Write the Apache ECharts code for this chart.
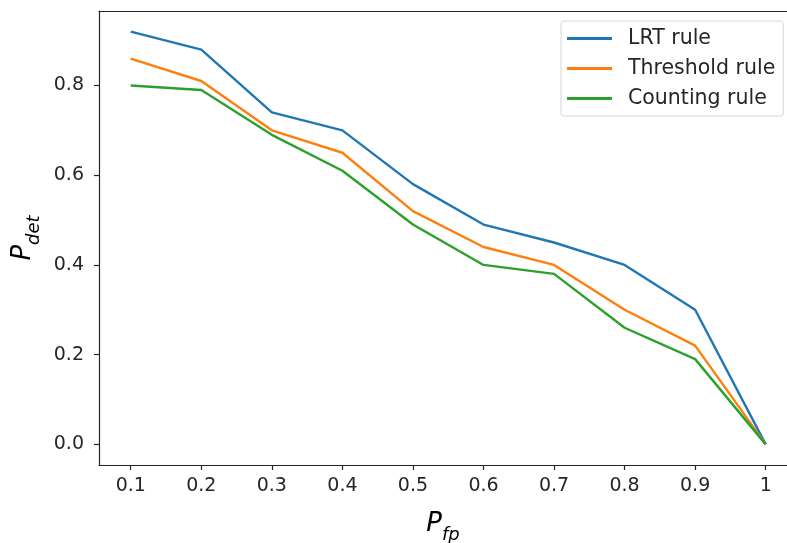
<!DOCTYPE html>
<html>
<head>
<meta charset="utf-8">
<script src="https://cdn.jsdelivr.net/npm/echarts@6/dist/echarts.min.js"></script>
<style>
  html, body { margin: 0; padding: 0; background: #fff; }
  #chart { width: 787px; height: 543px; }
</style>
</head>
<body>
<div id="chart"></div>
<script>
  // x categories (P_fp) and detection probabilities
  const pfpLabels = ['0.1', '0.2', '0.3', '0.4', '0.5', '0.6', '0.7', '0.8', '0.9', '1']
  const lrtRule = [0.92, 0.88, 0.74, 0.70, 0.58, 0.49, 0.45, 0.40, 0.30, 0.0]
  const thresholdRule = [0.86, 0.81, 0.70, 0.65, 0.52, 0.44, 0.40, 0.30, 0.22, 0.0]
  const countingRule = [0.80, 0.79, 0.69, 0.61, 0.49, 0.40, 0.38, 0.26, 0.19, 0.0]
  const yTicks = [0, 0.2, 0.4, 0.6, 0.8]

  const xIdx = pfpLabels.map((_, i) => i)
  const font = 'DejaVu Sans'
  const ink = '#262626'

  const mkSeries = (name, color, vals) => ({
    name,
    type: 'line',
    symbol: 'none',
    animation: false,
    lineStyle: { color, width: 2.4 },
    itemStyle: { color },
    data: vals.map((v, i) => [xIdx[i], v])
  })

  const nameRich = {
    a: { fontFamily: font, fontStyle: 'italic', fontSize: 26, color: '#000', verticalAlign: 'bottom' },
    b: { fontFamily: font, fontStyle: 'italic', fontSize: 18, color: '#000', verticalAlign: 'bottom', padding: [0, 0, -7, 0] }
  }

  const chart = echarts.init(document.getElementById('chart'))
  chart.setOption({
    backgroundColor: '#fff',
    animation: false,
    // the right spine of the original falls just outside the cropped picture
    grid: { left: 99, top: 11, right: 0, bottom: 78, containLabel: false, outerBoundsMode: 'none' },
    legend: {
      orient: 'vertical',
      left: 561,
      top: 21,
      padding: [7, 8, 7, 6],
      itemWidth: 45,
      itemHeight: 3,
      itemGap: 9,
      icon: 'rect',
      borderColor: '#d6d6d6',
      borderWidth: 1,
      borderRadius: 3,
      textStyle: { fontFamily: font, fontSize: 20.5, color: ink, padding: [0, 0, 0, 11] },
      data: ['LRT rule', 'Threshold rule', 'Counting rule']
    },
    xAxis: [{
      type: 'value',
      min: -0.45,
      max: 9.302,
      splitLine: { show: false },
      axisLine: { onZero: false, lineStyle: { color: ink, width: 1.2 } },
      axisTick: { show: true, customValues: xIdx, length: 5, lineStyle: { color: ink, width: 1.2 } },
      axisLabel: {
        customValues: xIdx,
        formatter: v => pfpLabels[Math.round(v)],
        fontFamily: font, fontSize: 19, color: ink, margin: 12
      },
      name: '{a|P}{b|fp}',
      nameLocation: 'middle',
      nameGap: 46,
      nameTextStyle: { rich: nameRich }
    }, {
      type: 'value',
      position: 'top',
      min: -0.45,
      max: 9.302,
      splitLine: { show: false },
      axisLine: { show: true, onZero: false, lineStyle: { color: ink, width: 1.2 } },
      axisTick: { show: false },
      axisLabel: { show: false }
    }],
    yAxis: {
      type: 'value',
      min: -0.046,
      max: 0.966,
      splitLine: { show: false },
      axisLine: { show: true, onZero: false, lineStyle: { color: ink, width: 1.2 } },
      axisTick: { show: true, customValues: yTicks, length: 5, lineStyle: { color: ink, width: 1.2 } },
      axisLabel: {
        customValues: yTicks,
        formatter: v => v.toFixed(1),
        fontFamily: font, fontSize: 19, color: ink, margin: 15
      },
      name: '{a|P}{b|det}',
      nameLocation: 'middle',
      nameGap: 61,
      nameTextStyle: { rich: nameRich }
    },
    series: [
      mkSeries('LRT rule', '#1f77b4', lrtRule),
      mkSeries('Threshold rule', '#ff7f0e', thresholdRule),
      mkSeries('Counting rule', '#2ca02c', countingRule)
    ]
  })
</script>
</body>
</html>
